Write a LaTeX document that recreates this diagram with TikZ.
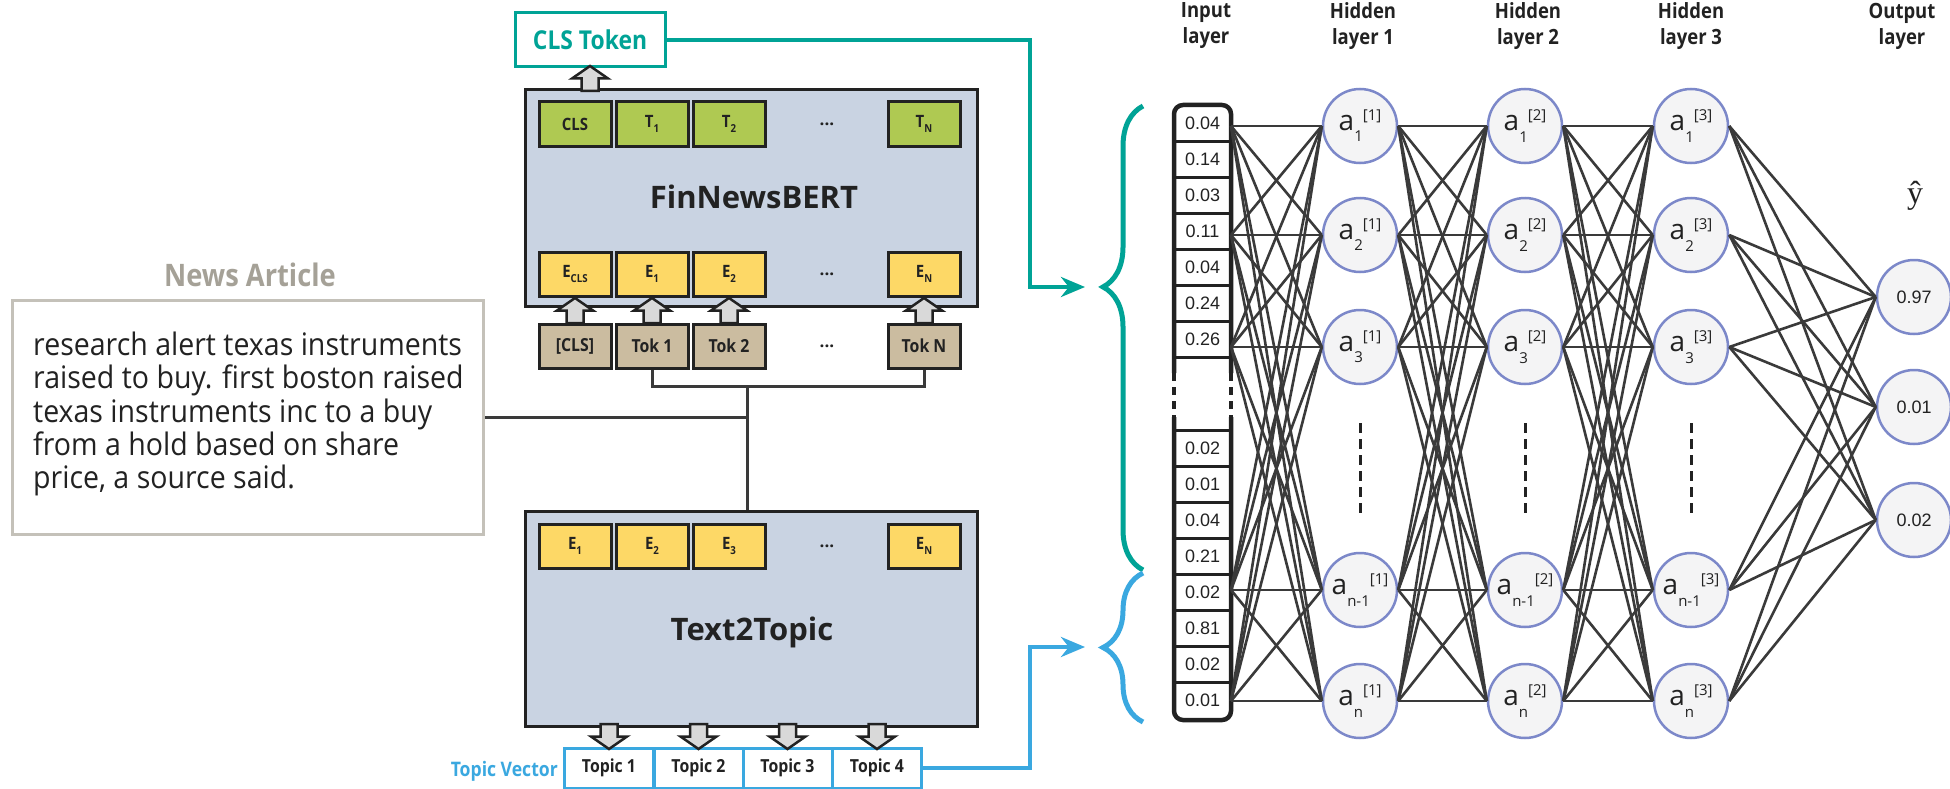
\documentclass[tikz,border=0pt]{standalone}
\usepackage{fontspec}
\setmainfont{Open Sans}
\newfontfamily\narrowbf[FakeStretch=0.88]{Open Sans}
\newfontfamily\articlefont[FakeStretch=0.92]{Open Sans}
\newfontfamily\numfont{Liberation Sans}
\newfontfamily\seriffont{Liberation Serif}
\usetikzlibrary{positioning,arrows.meta,decorations.pathreplacing}

\definecolor{tealc}{HTML}{00A396}
\definecolor{bluec}{HTML}{3AA8E0}
\definecolor{modelc}{HTML}{C9D3E2}
\definecolor{greenc}{HTML}{AFC952}
\definecolor{yellowc}{HTML}{FDD866}
\definecolor{tanc}{HTML}{CBBCA0}
\definecolor{artc}{HTML}{C4C1B9}
\definecolor{arttitlec}{HTML}{A5A197}
\definecolor{wirec}{HTML}{3A3A3A}
\definecolor{arrowc}{HTML}{D9D9D9}
\definecolor{neurfill}{HTML}{F4F4F5}
\definecolor{neurdraw}{HTML}{7C88C9}
\definecolor{inkc}{HTML}{222222}

\newcommand{\subidx}[1]{\raisebox{-0.3em}{\fontsize{11}{11}\selectfont#1}}
\newcommand{\neuronlab}[2]{a\raisebox{-0.4em}{\fontsize{15}{15}\selectfont#1}\raisebox{0.36em}{\fontsize{15}{15}\selectfont[#2]}}

\begin{document}
\begin{tikzpicture}[x=1pt,y=-1pt,
  wire/.style={draw=wirec,line width=3pt},
  net_wire/.style={draw=wirec,line width=2.6pt},
  model_box/.style={draw=inkc,fill=modelc,line width=3pt,minimum width=452pt,inner sep=0pt},
  model_title/.style={font=\bfseries\fontsize{31}{31}\selectfont,text=inkc,inner sep=0pt},
  base_cell/.style={draw=inkc,line width=3pt,minimum width=72pt,minimum height=44pt,inner sep=0pt,text=inkc,font=\narrowbf\bfseries\fontsize{17}{17}\selectfont},
  t_cell/.style={base_cell,fill=greenc},
  e_cell/.style={base_cell,fill=yellowc},
  tok_cell/.style={base_cell,fill=tanc,font=\narrowbf\bfseries\fontsize{18}{18}\selectfont},
  ellipsis_mark/.style={font=\bfseries\fontsize{17}{17}\selectfont,text=inkc,inner sep=0pt},
  cls_box/.style={draw=tealc,line width=3pt,fill=white,minimum width=150pt,minimum height=54pt,text=tealc,font=\narrowbf\bfseries\fontsize{26}{26}\selectfont},
  topic_cell/.style={draw=bluec,line width=3pt,fill=white,minimum width=89pt,minimum height=40pt,inner sep=0pt,text=inkc,font=\narrowbf\bfseries\fontsize{18}{18}\selectfont},
  topic_title/.style={anchor=east,inner sep=0pt,text=bluec,font=\narrowbf\bfseries\fontsize{20}{20}\selectfont},
  block_arrow/.style={draw=inkc,fill=arrowc,line width=2.5pt,line join=miter},
  pics/block_up/.style={code={\draw[block_arrow] (-8.5,12.5) -- (-8.5,0) -- (-18,0) -- (0,-12.5) -- (18,0) -- (8.5,0) -- (8.5,12.5) -- cycle;}},
  pics/block_down/.style={code={\draw[block_arrow] (-8.5,-12.5) -- (-8.5,0) -- (-18,0) -- (0,12.5) -- (18,0) -- (8.5,0) -- (8.5,-12.5) -- cycle;}},
  teal_link/.style={draw=tealc,line width=4pt,-{Stealth[length=24pt,width=20pt]}},
  blue_link/.style={draw=bluec,line width=4pt,-{Stealth[length=24pt,width=20pt]}},
  teal_brace/.style={draw=tealc,line width=5pt,decorate,decoration={brace,amplitude=40pt,aspect=0.61}},
  blue_brace/.style={draw=bluec,line width=5pt,decorate,decoration={brace,amplitude=40pt,aspect=0.5}},
  art_box/.style={draw=artc,line width=3pt,minimum width=471pt,minimum height=234pt,inner sep=0pt},
  art_title/.style={text=arttitlec,font=\narrowbf\bfseries\fontsize{31}{31}\selectfont,inner sep=0pt},
  art_text/.style={anchor=west,align=left,inner sep=0pt,text=inkc,font=\articlefont\fontsize{31}{33.3}\selectfont},
  in_cell/.style={inner sep=0pt,text=inkc,font=\numfont\fontsize{18}{18}\selectfont},
  col_frame/.style={draw=inkc,line width=4.5pt,rounded corners=9pt},
  divider/.style={draw=inkc,line width=3pt},
  neuron/.style={circle,draw=neurdraw,fill=neurfill,line width=2.5pt,minimum size=74pt,inner sep=0pt,text=inkc,font=\fontsize{28}{28}\selectfont},
  out_neuron/.style={neuron,font=\numfont\fontsize{18}{18}\selectfont},
  layer_label/.style={align=center,inner sep=0pt,text=inkc,font=\narrowbf\bfseries\fontsize{21}{26}\selectfont},
  gap_dots/.style={draw=inkc,line width=3pt,dash pattern=on 10pt off 6pt}]

\useasboundingbox[fill=white] (0,0) rectangle (1950,789);

% news article
\node[art_box] (article) at (248,417) {};
\node[art_title] (art_title) at (250,275) {News Article};
\node[art_text] (art_text) at (33,414) {research alert texas instruments\\raised to buy. first boston raised\\texas instruments inc to a buy\\from a hold based on share\\price, a source said.};

% FinNewsBERT
\node[model_box,minimum height=216pt] (bert) at (751,198) {};
\node[model_title] (bert_title) at (754,197) {FinNewsBERT};
\node[t_cell] (t0) at (575,124) {CLS};
\node[t_cell] (t1) at (652,124) {T\subidx{1}};
\node[t_cell] (t2) at (729,124) {T\subidx{2}};
\node[t_cell] (tn) at (924,124) {T\subidx{N}};
\node[ellipsis_mark] (t_dots) at (827,124) {...};
\node[e_cell] (e0) at (575,274) {E\subidx{CLS}};
\node[e_cell] (e1) at (652,274) {E\subidx{1}};
\node[e_cell] (e2) at (729,274) {E\subidx{2}};
\node[e_cell] (en) at (924,274) {E\subidx{N}};
\node[ellipsis_mark] (e_dots) at (827,274) {...};
\node[tok_cell] (tok0) at (575,346) {[CLS]};
\node[tok_cell] (tok1) at (652,346) {Tok 1};
\node[tok_cell] (tok2) at (729,346) {Tok 2};
\node[tok_cell] (tokn) at (924,346) {Tok N};
\node[ellipsis_mark] (tok_dots) at (827,346) {...};
\node[cls_box] (cls_token) at (590,40) {CLS Token};
\pic (up_cls) at (590,78.5) {block_up};
\foreach \xx [count=\i] in {575,652,729,924}
  \pic (up\i) at (\xx,310.5) {block_up};

% Text2Topic
\node[model_box,minimum height=215pt] (t2t) at (751,618.5) {};
\node[model_title] (t2t_title) at (752,632) {Text2Topic};
\node[e_cell] (f1) at (575,546) {E\subidx{1}};
\node[e_cell] (f2) at (652,546) {E\subidx{2}};
\node[e_cell] (f3) at (729,546) {E\subidx{3}};
\node[e_cell] (fn) at (924,546) {E\subidx{N}};
\node[ellipsis_mark] (f_dots) at (827,546) {...};
\foreach \xx [count=\i] in {609,698.5,787.5,877} {
  \node[topic_cell] (topic\i) at (\xx,768) {Topic \i};
  \pic (down\i) at (\xx,736.5) {block_down};
}
\node[topic_title] (topic_title) at (558,771) {Topic Vector};

% article and tokens feed both models
\coordinate (join) at (747,386);
\draw[wire] (tok1.south) |- (join) -| (tokn.south);
\draw[wire] (join) -- (join |- t2t.north);
\draw[wire] (article.east) -- (article.east -| join);

% links into the classifier
\coordinate (teal_turn) at (1030,287);
\coordinate (teal_tip) at (1085,287);
\coordinate (blue_turn) at (1030,647);
\coordinate (blue_tip) at (1085,647);
\draw[teal_link] (cls_token.east) -| (teal_turn) -- (teal_tip);
\draw[blue_link] (topic4.east) -| (blue_turn) -- (blue_tip);
\draw[teal_brace] (1143,570) -- (1143,106);
\draw[blue_brace] (1143,722) -- (1143,573);

% input column
\foreach \v [count=\i] in {0.04,0.14,0.03,0.11,0.04,0.24,0.26}
  \node[in_cell] (xa\i) at (1202.5,87+36*\i) {\v};
\foreach \v [count=\i] in {0.02,0.01,0.04,0.21,0.02,0.81,0.02,0.01}
  \node[in_cell] (xb\i) at (1202.5,412+36*\i) {\v};
\foreach \yy in {141,177,213,249,285,321,357,430,466,502,538,574,610,646,682}
  \draw[divider] (1174,\yy) -- (1231,\yy);
\draw[col_frame] (1174,373) -- (1174,105) -- (1231,105) -- (1231,373);
\draw[col_frame] (1174,417) -- (1174,720) -- (1231,720) -- (1231,417);
\draw[col_frame,dash pattern=on 8pt off 6pt] (1174,373) -- (1174,417);
\draw[col_frame,dash pattern=on 8pt off 6pt] (1231,373) -- (1231,417);
\foreach \yy [count=\i] in {126,235,347,590,701}
  \coordinate (xin\i) at (1231,\yy);

% hidden layers
\foreach \l/\xx in {1/1360,2/1525,3/1691} {
  \node[neuron] (h\l-1) at (\xx,126) {\neuronlab{1}{\l}};
  \node[neuron] (h\l-2) at (\xx,235) {\neuronlab{2}{\l}};
  \node[neuron] (h\l-3) at (\xx,347) {\neuronlab{3}{\l}};
  \node[neuron] (h\l-4) at (\xx,590) {\neuronlab{n-1}{\l}};
  \node[neuron] (h\l-5) at (\xx,701) {\neuronlab{n}{\l}};
  \coordinate (gap\l-top) at (\xx,423);
  \coordinate (gap\l-bot) at (\xx,513);
  \draw[gap_dots] (gap\l-top) -- (gap\l-bot);
}

% output layer
\node[out_neuron] (o1) at (1914,297) {0.97};
\node[out_neuron] (o2) at (1914,407) {0.01};
\node[out_neuron] (o3) at (1914,520) {0.02};
\node[inner sep=0pt,text=inkc,font=\seriffont\fontsize{32}{32}\selectfont] (yhat) at (1915,196) {ŷ};

\foreach \i in {1,...,5}
  \foreach \j in {1,...,5} {
    \draw[net_wire] (xin\i) -- (h1-\j.west);
    \draw[net_wire] (h1-\i.east) -- (h2-\j.west);
    \draw[net_wire] (h2-\i.east) -- (h3-\j.west);
  }
\foreach \i in {1,...,5}
  \foreach \j in {1,2,3}
    \draw[net_wire] (h3-\i.east) -- (o\j.west);

% layer headings
\node[layer_label] (lab_in) at (1206,26) {Input\\layer};
\node[layer_label] (lab_h1) at (1363,26) {Hidden\\layer 1};
\node[layer_label] (lab_h2) at (1528,26) {Hidden\\layer 2};
\node[layer_label] (lab_h3) at (1691,26) {Hidden\\layer 3};
\node[layer_label] (lab_out) at (1902,26) {Output\\layer};
\end{tikzpicture}
\end{document}
